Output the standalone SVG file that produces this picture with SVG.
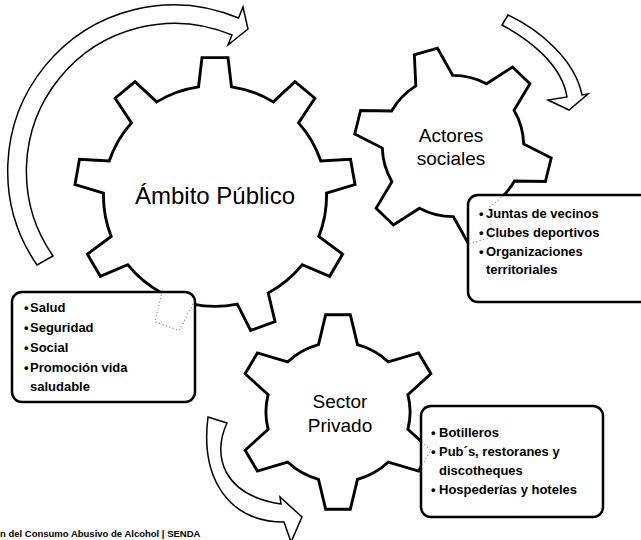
<svg xmlns="http://www.w3.org/2000/svg" xmlns:xlink="http://www.w3.org/1999/xlink" width="641" height="540" viewBox="0 0 641 540">
<style>
.gear{fill:#fff;stroke:#000;stroke-width:2.8;stroke-linejoin:miter}
.ghost{fill:none;stroke:#777;stroke-width:1;stroke-dasharray:1 2.5}
.box{fill:#fff;stroke:#000;stroke-width:2.5}
.arrow{fill:#fff;stroke:#000;stroke-width:1.5;stroke-linejoin:miter}
.lbl{font-family:"Liberation Sans",Arial,sans-serif;font-size:19px;fill:#000;text-anchor:middle}
.big{font-size:24px}
.item{font-family:"Liberation Sans",Arial,sans-serif;font-size:13px;font-weight:bold;fill:#000}
.cap{font-family:"Liberation Sans",Arial,sans-serif;font-size:9.5px;font-weight:bold;fill:#000}
</style>
<defs>
<path id="gear9" d="M -15.96 -106.81 L -12.57 -135.42 L 12.57 -135.42 L 15.96 -106.81 A 108 108 0 0 1 56.43 -92.08 L 77.42 -111.81 L 96.67 -95.66 L 80.89 -71.56 A 108 108 0 0 1 102.42 -34.27 L 131.19 -35.89 L 135.54 -11.14 L 107.96 -2.83 A 108 108 0 0 1 100.48 39.58 L 123.56 56.83 L 110.99 78.59 L 84.52 67.23 A 108 108 0 0 1 51.54 94.91 L 58.13 122.96 L 34.52 131.55 L 21.54 105.83 A 108 108 0 0 1 -21.54 105.83 L -34.52 131.55 L -58.13 122.96 L -51.54 94.91 A 108 108 0 0 1 -84.52 67.23 L -110.99 78.59 L -123.56 56.83 L -100.48 39.58 A 108 108 0 0 1 -107.96 -2.83 L -135.54 -11.14 L -131.19 -35.89 L -102.42 -34.27 A 108 108 0 0 1 -80.89 -71.56 L -96.67 -95.66 L -77.42 -111.81 L -56.43 -92.08 A 108 108 0 0 1 -15.96 -106.81 Z"/>
<path id="gear6" d="M -18.94 -67.39 L -11.94 -97.27 L 11.94 -97.27 L 18.94 -67.39 A 70 70 0 0 1 48.89 -50.10 L 78.26 -58.98 L 90.21 -38.29 L 67.83 -17.29 A 70 70 0 0 1 67.83 17.29 L 90.21 38.29 L 78.26 58.98 L 48.89 50.10 A 70 70 0 0 1 18.94 67.39 L 11.94 97.27 L -11.94 97.27 L -18.94 67.39 A 70 70 0 0 1 -48.89 50.10 L -78.26 58.98 L -90.21 38.29 L -67.83 17.29 A 70 70 0 0 1 -67.83 -17.29 L -90.21 -38.29 L -78.26 -58.98 L -48.89 -50.10 A 70 70 0 0 1 -18.94 -67.39 Z"/>
<clipPath id="clipSalud" clipPathUnits="userSpaceOnUse"><rect x="13.5" y="293.5" width="180" height="107"/></clipPath>
<clipPath id="clipActores" clipPathUnits="userSpaceOnUse"><rect x="469.5" y="196.5" width="200" height="104"/></clipPath>
<clipPath id="clipSector" clipPathUnits="userSpaceOnUse"><rect x="422.5" y="408.5" width="179" height="107"/></clipPath>
</defs>
<rect x="0" y="0" width="641" height="540" fill="#fff"/>

<g id="arrows">
<path class="arrow" d="M 37 265 A 166 166 0 0 1 238.5 18 L 243 7 L 248 29 L 228 45 L 232 35 A 148 148 0 0 0 53 256 Z"/>
<path class="arrow" d="M 508 15 C 540 30, 575 60, 582 95 L 588 94 L 569 110 L 548 100 L 567 97 C 562 65, 530 40, 502 25 Z"/>
<path class="arrow" d="M 227 423 C 212 455, 222 495, 281 504 L 280 497 L 302 517 L 291 542 L 284 522 C 230 522, 200 480, 208 417 Z"/>
</g>

<g id="ambito-publico">
<use xlink:href="#gear9" href="#gear9" class="gear" transform="translate(215,196) scale(1.033,1.022)"/>
<text class="lbl big" x="215" y="204">Ámbito Público</text>
</g>

<g id="actores-sociales">
<use xlink:href="#gear6" href="#gear6" class="gear" transform="translate(453,146) rotate(-16) scale(1.01)"/>
<text class="lbl" x="451" y="142">Actores</text>
<text class="lbl" x="451" y="165">sociales</text>
</g>

<g id="sector-privado">
<use xlink:href="#gear6" href="#gear6" class="gear" transform="translate(338,412) scale(1.03,1)"/>
<text class="lbl" x="340" y="408">Sector</text>
<text class="lbl" x="340" y="432">Privado</text>
</g>

<g id="box-ambito">
<rect class="box" x="12" y="292" width="183" height="110" rx="10"/>
<g clip-path="url(#clipSalud)"><use xlink:href="#gear9" href="#gear9" class="ghost" transform="translate(215,196) scale(1.033,1.022)"/></g>
<text class="item" y="312"><tspan x="24">•</tspan><tspan x="30">Salud</tspan></text>
<text class="item" y="332"><tspan x="24">•</tspan><tspan x="30">Seguridad</tspan></text>
<text class="item" y="352"><tspan x="24">•</tspan><tspan x="30">Social</tspan></text>
<text class="item" y="372"><tspan x="24">•</tspan><tspan x="30">Promoción vida</tspan></text>
<text class="item" x="30" y="391">saludable</text>
</g>

<g id="box-actores">
<rect class="box" x="468" y="195" width="200" height="107" rx="10"/>
<g clip-path="url(#clipActores)"><use xlink:href="#gear6" href="#gear6" class="ghost" transform="translate(453,146) rotate(-16) scale(1.01)"/></g>
<text class="item" y="218"><tspan x="479">•</tspan><tspan x="486">Juntas de vecinos</tspan></text>
<text class="item" y="237"><tspan x="479">•</tspan><tspan x="486">Clubes deportivos</tspan></text>
<text class="item" y="256"><tspan x="479">•</tspan><tspan x="486">Organizaciones</tspan></text>
<text class="item" x="486" y="274">territoriales</text>
</g>

<g id="box-sector">
<rect class="box" x="421" y="406" width="182" height="111" rx="10"/>
<g clip-path="url(#clipSector)"><use xlink:href="#gear6" href="#gear6" class="ghost" transform="translate(338,412) scale(1.03,1)"/></g>
<text class="item" y="437"><tspan x="431">•</tspan><tspan x="439">Botilleros</tspan></text>
<text class="item" y="456"><tspan x="431">•</tspan><tspan x="439">Pub´s, restoranes y</tspan></text>
<text class="item" x="439" y="475">discotheques</text>
<text class="item" y="494"><tspan x="431">•</tspan><tspan x="439">Hospederías y hoteles</tspan></text>
</g>

<text class="cap" x="0" y="537">n del Consumo Abusivo de Alcohol | SENDA</text>
</svg>
